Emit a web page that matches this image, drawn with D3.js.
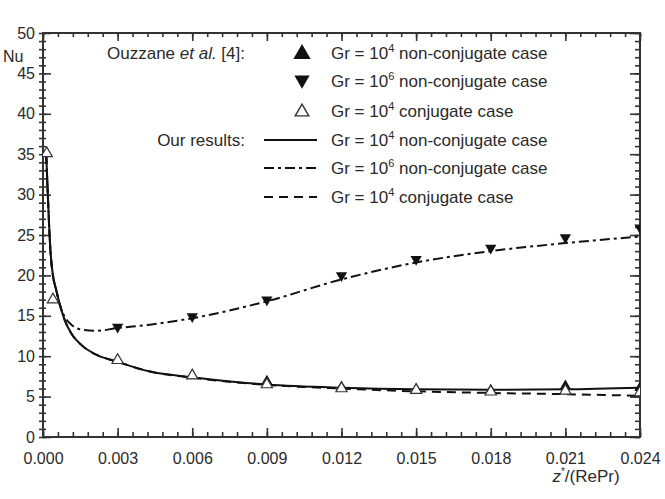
<!DOCTYPE html>
<html>
<head>
<meta charset="utf-8">
<script src="https://cdn.jsdelivr.net/npm/d3@7"></script>
<style>
  body { margin: 0; background: #fff; }
  text { font-family: "Liberation Sans", Arial, Helvetica, sans-serif; fill: #2a2a2a; }
</style>
</head>
<body>
<div id="chart"></div>
<script>
// axis ticks
var xMajor = [0, 0.003, 0.006, 0.009, 0.012, 0.015, 0.018, 0.021, 0.024];
var yMajor = [0, 5, 10, 15, 20, 25, 30, 35, 40, 45, 50];

// our results (curves)
var curveZ       = [0.00013, 0.0002, 0.0003, 0.0004, 0.00053, 0.00067, 0.00087, 0.00114, 0.00154, 0.0022, 0.0029, 0.0043, 0.006, 0.009, 0.012, 0.015, 0.018, 0.021, 0.024];
var nuGr4Non     = [35.0, 29.5, 23.0, 20.0, 18.2, 16.5, 14.5, 12.8, 11.4, 10.1, 9.4, 8.1, 7.4, 6.5, 6.1, 5.9, 5.85, 5.9, 6.1];
var nuGr6Non     = [35.0, 29.5, 23.0, 20.0, 18.2, 16.4, 14.9, 13.9, 13.3, 13.15, 13.45, 13.9, 14.7, 16.8, 19.5, 21.6, 23.0, 24.0, 24.8];
var nuGr4Conj    = [35.0, 29.5, 23.0, 20.0, 18.2, 16.5, 14.5, 12.8, 11.4, 10.1, 9.4, 8.1, 7.35, 6.45, 6.0, 5.65, 5.45, 5.3, 5.1];

// Ouzzane et al. [4] (markers)
var ptZ          = [0.003, 0.006, 0.009, 0.012, 0.015, 0.018, 0.021, 0.024];
var ouzGr4Non    = [9.5, 7.6, 6.9, 6.2, 5.9, 5.8, 6.3, 6.1];
var ouzGr6Non    = [13.6, 14.9, 17.0, 20.0, 22.0, 23.4, 24.7, 25.9];
var conjZ        = [0.00015, 0.0004, 0.003, 0.006, 0.009, 0.012, 0.015, 0.018, 0.021, 0.024];
var ouzGr4Conj   = [35.1, 17.0, 9.5, 7.6, 6.5, 6.0, 5.8, 5.6, 5.7, 5.5];

var W = 665, H = 499;
var margin = {top: 33, right: 25, bottom: 62, left: 43},
    width = W - margin.left - margin.right,
    height = H - margin.top - margin.bottom;

var svg = d3.select("#chart")
  .append("svg")
    .attr("width", W)
    .attr("height", H)
  .append("g")
    .attr("transform", "translate(" + margin.left + "," + margin.top + ")");

var x = d3.scaleLinear().domain([0, 0.024]).range([0, width]);
var y = d3.scaleLinear().domain([0, 50]).range([height, 0]);

var xMinor = d3.range(0, 0.02401, 0.0006);
var yMinor = d3.range(0, 50.01, 1);

function styleAxis(g) {
  g.select(".domain").remove();
  g.selectAll("line").attr("stroke", "#333").attr("stroke-width", 1.6);
}

// bottom
svg.append("g").attr("transform", "translate(0," + height + ")")
  .call(d3.axisBottom(x).tickValues(xMinor).tickSize(-5).tickFormat(""))
  .call(styleAxis);
svg.append("g").attr("transform", "translate(0," + height + ")")
  .call(d3.axisBottom(x).tickValues(xMajor).tickSize(-9).tickPadding(16).tickFormat(d3.format(".3f")))
  .call(styleAxis)
  .selectAll("text").style("font-size", "16px").attr("fill", "#2a2a2a");
// top
svg.append("g")
  .call(d3.axisTop(x).tickValues(xMinor).tickSize(-4).tickFormat(""))
  .call(styleAxis);
svg.append("g")
  .call(d3.axisTop(x).tickValues(xMajor).tickSize(-8).tickFormat(""))
  .call(styleAxis);
// left (ticks cross the line a little)
svg.append("g").attr("transform", "translate(3,0)")
  .call(d3.axisLeft(y).tickValues(yMinor).tickSize(7).tickFormat(""))
  .call(styleAxis);
svg.append("g")
  .call(d3.axisLeft(y).tickValues(yMajor).tickSize(-8).tickPadding(8).tickFormat(d3.format("d")))
  .call(styleAxis)
  .selectAll("text").style("font-size", "16px").attr("fill", "#2a2a2a");
// right
svg.append("g").attr("transform", "translate(" + width + ",0)")
  .call(d3.axisRight(y).tickValues(yMinor).tickSize(-5).tickFormat(""))
  .call(styleAxis);
svg.append("g").attr("transform", "translate(" + width + ",0)")
  .call(d3.axisRight(y).tickValues(yMajor).tickSize(-10).tickFormat(""))
  .call(styleAxis);

// frame
svg.append("rect")
  .attr("width", width).attr("height", height)
  .attr("fill", "none").attr("stroke", "#333").attr("stroke-width", 2);

// axis titles
svg.append("text")
  .attr("x", -40).attr("y", 29)
  .style("font-size", "16px")
  .text("Nu");

var xt = svg.append("text")
  .attr("x", 543).attr("y", 449)
  .attr("text-anchor", "middle")
  .style("font-size", "17px");
xt.append("tspan").style("font-style", "italic").text("z");
xt.append("tspan").attr("dy", -7).style("font-size", "10px").text("*");
xt.append("tspan").attr("dy", 7).text("/(RePr)");

// curves
svg.append("clipPath").attr("id", "clip")
  .append("rect").attr("width", width).attr("height", height);

var line = d3.line()
  .x(function(d) { return x(d[0]); })
  .y(function(d) { return y(d[1]); })
  .curve(d3.curveMonotoneX);

function pairs(zs, vs) { return zs.map(function(z, i) { return [z, vs[i]]; }); }

var curves = [
  {data: pairs(curveZ, nuGr4Conj), dash: "9,6"},
  {data: pairs(curveZ, nuGr6Non), dash: "10,4,3,4"},
  {data: pairs(curveZ, nuGr4Non), dash: null}
];

svg.append("g").attr("clip-path", "url(#clip)")
  .selectAll("path")
  .data(curves)
  .enter()
  .append("path")
    .attr("d", function(d) { return line(d.data); })
    .attr("fill", "none")
    .attr("stroke", "#111")
    .attr("stroke-width", 2)
    .attr("stroke-dasharray", function(d) { return d.dash; });

// markers
var triUp = d3.symbol().type(d3.symbolTriangle);
var markers = svg.append("g").attr("clip-path", "url(#clip)");

markers.selectAll(".up")
  .data(pairs(ptZ, ouzGr4Non))
  .enter()
  .append("path")
    .attr("d", triUp.size(55))
    .attr("transform", function(d) { return "translate(" + x(d[0]) + "," + y(d[1]) + ")"; })
    .attr("fill", "#111");

markers.selectAll(".down")
  .data(pairs(ptZ, ouzGr6Non))
  .enter()
  .append("path")
    .attr("d", triUp.size(55))
    .attr("transform", function(d) { return "translate(" + x(d[0]) + "," + y(d[1]) + ") rotate(180)"; })
    .attr("fill", "#111");

markers.selectAll(".open")
  .data(pairs(conjZ, ouzGr4Conj))
  .enter()
  .append("path")
    .attr("d", triUp.size(55))
    .attr("transform", function(d) { return "translate(" + x(d[0]) + "," + y(d[1]) + ")"; })
    .attr("fill", "#fff")
    .attr("stroke", "#333")
    .attr("stroke-width", 1.2);

// legend
var legendExp = ["4", "6", "4", "4", "6", "4"];
var legendCase = [" non-conjugate case", " non-conjugate case", " conjugate case",
                  " non-conjugate case", " non-conjugate case", " conjugate case"];
var rowY = [20, 48, 78, 107, 135, 164];
var leg = svg.append("g");

leg.selectAll(".lt")
  .data(legendExp)
  .enter()
  .append("text")
    .attr("x", 288)
    .attr("y", function(d, i) { return rowY[i] + 6; })
    .style("font-size", "17px")
    .each(function(d, i) {
      var t = d3.select(this);
      t.append("tspan").text("Gr = 10");
      t.append("tspan").attr("dy", -7).style("font-size", "11px").text(d);
      t.append("tspan").attr("dy", 7).text(legendCase[i]);
    });

var h1 = leg.append("text").attr("x", 202).attr("y", rowY[0] + 6)
  .attr("text-anchor", "end").style("font-size", "17px");
h1.append("tspan").text("Ouzzane ");
h1.append("tspan").style("font-style", "italic").text("et al.");
h1.append("tspan").text(" [4]:");

leg.append("text").attr("x", 202).attr("y", rowY[3] + 6)
  .attr("text-anchor", "end").style("font-size", "17px")
  .text("Our results:");

leg.append("path").attr("d", triUp.size(130))
  .attr("transform", "translate(259," + (rowY[0] + 1) + ")").attr("fill", "#111");
leg.append("path").attr("d", triUp.size(100))
  .attr("transform", "translate(259," + (rowY[1] - 1) + ") rotate(180)").attr("fill", "#111");
leg.append("path").attr("d", triUp.size(80))
  .attr("transform", "translate(259," + (rowY[2] + 1) + ")")
  .attr("fill", "#fff").attr("stroke", "#333").attr("stroke-width", 1.4);

var legDash = [null, "10,4,3,4", "9,6"];
leg.selectAll(".ll")
  .data(legDash)
  .enter()
  .append("line")
    .attr("x1", 221).attr("x2", 274)
    .attr("y1", function(d, i) { return rowY[3 + i]; })
    .attr("y2", function(d, i) { return rowY[3 + i]; })
    .attr("stroke", "#111")
    .attr("stroke-width", 2)
    .attr("stroke-dasharray", function(d) { return d; });
</script>
</body>
</html>
